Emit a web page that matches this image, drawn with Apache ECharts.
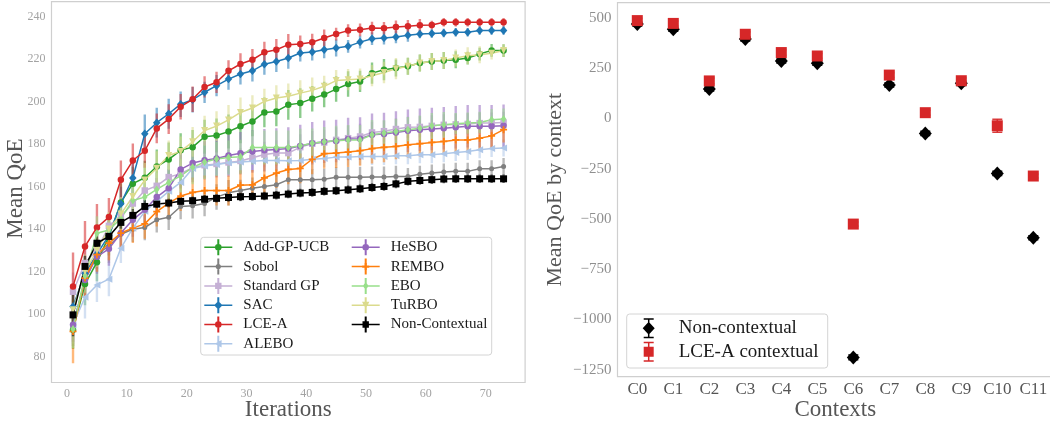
<!DOCTYPE html>
<html><head><meta charset="utf-8">
<script src="https://cdn.jsdelivr.net/npm/echarts@6/dist/echarts.min.js"></script>
<style>html,body{margin:0;padding:0;background:#fff}#c{width:1050px;height:421px}</style>
</head><body><div id="c"></div>
<script>
// ---------------- data (left panel) ----------------
const iterations = [1,3,5,7,9,11,13,15,17,19, 21,23,25,27,29,31,33,35,37,39, 41,43,45,47,49,51,53,55,57,59, 61,63,65,67,69,71,73];
const xTicks = [0,10,20,30,40,50,60,70];
const yTicks = [80,100,120,140,160,180,200,220,240];

const addGpUcb = [92.6,114.1,124.4,136.5,152.5,161.3,164.1,169.4,172.7,177.0, 178.5,183.4,184.0,185.8,188.3,190.6,194.8,195.3,198.4,199.2, 201.3,203.2,205.8,208.2,209.4,213.3,214.9,215.7,216.5,218.1, 218.8,219.2,219.6,220.4,222.3,224.0,223.9];
const sobol = [94.0,116.0,128.0,132.0,137.5,139.9,140.7,144.3,145.5,150.6, 150.9,152.0,155.0,157.0,158.1,159.2,160.0,160.8,163.2,163.2, 163.2,163.4,164.3,164.3,164.3,164.4,164.4,164.7,164.7,165.8, 166.3,166.8,167.1,167.1,168.3,168.3,169.4];
const standardGp = [110.5,124.0,130.0,141.5,146.0,152.0,158.1,160.3,164.4,166.0, 168.9,170.0,170.6,171.3,172.0,173.5,175.0,175.7,175.7,178.5, 180.1,180.7,181.9,182.7,183.5,185.4,186.0,187.0,187.8,188.0, 188.5,189.0,189.2,189.4,189.8,189.8,190.1];
const sac = [103.5,119.2,128.2,137.0,151.9,164.0,184.8,190.0,194.2,198.7, 200.8,204.3,207.4,210.5,212.9,214.4,217.5,218.8,220.4,222.8, 223.2,224.3,225.1,225.9,227.9,229.5,229.8,230.3,231.1,231.7, 231.9,232.2,232.5,232.5,233.4,233.4,233.4];
const lceA = [113.0,131.8,140.7,145.6,163.2,172.2,176.8,187.3,191.7,197.5, 201.0,206.8,209.0,214.4,217.6,219.6,223.1,224.3,226.7,227.0, 227.8,229.8,231.7,233.3,233.7,234.5,234.4,235.0,235.3,235.8, 235.9,237.2,237.2,237.2,237.2,237.2,237.2];
const alebo = [95.0,107.9,113.7,116.4,131.0,140.4,148.3,153.0,157.7,161.9, 168.5,169.6,170.3,171.1,171.5,171.9,172.2,172.2,172.1,172.2, 172.8,173.2,173.8,173.8,174.1,174.1,174.1,174.4,174.5,174.9, 174.9,175.4,176.0,176.5,177.3,177.8,178.1];
const hesbo = [95.0,116.0,127.0,130.7,138.1,144.3,149.0,155.0,159.2,168.0, 171.0,172.3,173.2,174.6,175.6,176.4,177.0,177.4,177.8,179.0, 180.3,181.0,181.4,182.3,182.5,184.3,184.7,185.4,186.2,186.7, 187.0,187.4,187.8,188.3,188.3,188.3,188.5];
const rembo = [91.8,116.9,127.9,133.3,138.1,140.4,142.4,148.2,152.2,155.5, 157.2,158.1,158.1,158.1,160.6,160.8,164.0,166.3,168.0,168.5, 172.8,175.4,175.7,176.2,176.8,177.8,178.4,178.8,179.6,180.1, 180.7,181.2,181.9,181.9,182.7,183.8,186.7];
const ebo = [93.0,118.0,138.0,139.5,145.0,153.4,155.0,158.6,161.9,165.0, 169.0,171.5,172.9,173.6,174.0,178.3,178.3,178.3,178.3,179.2, 180.3,181.0,181.5,181.9,181.9,184.3,185.1,185.9,186.7,187.4, 188.5,189.0,189.5,189.8,190.1,191.4,191.7];
const turbo = [102.0,120.0,130.0,140.0,147.0,155.3,163.0,168.6,174.6,176.5, 181.0,186.3,188.4,191.3,194.8,196.9,200.0,201.6,202.4,203.9, 205.2,207.1,209.8,210.2,210.5,212.1,213.6,215.4,216.5,218.1, 218.8,219.2,220.4,221.5,222.0,222.7,223.9];
const nonContextual = [99.6,122.4,133.3,136.5,143.1,146.4,150.6,151.7,152.2,153.0, 153.3,154.0,154.4,154.8,155.2,155.3,155.5,155.9,156.4,156.9, 157.2,157.7,158.0,158.4,158.9,159.5,160.0,161.2,162.4,162.8, 163.2,163.5,163.6,163.6,163.6,163.6,163.6];

const errAddGpUcb = [9,10,9,9,9,8,8,8,8,8, 8,8,8,8,8,7,7,7,7,7, 6,6,6,6,5,5,5,4,4,4, 4,4,4,3,3,3,3];
const errSobol = [9,8,8,8,6,6,6,6,6,6, 6,6,6,6,5,5,5,5,5,5, 5,5,5,5,5,5,5,5,4,4, 4,4,4,4,4,4,4];
const errStandardGp = [9,7,7,6,6,6,6,6,6,6, 6,6,6,6,6,6,6,6,6,6, 6,6,6,6,6,5,5,5,5,5, 5,5,5,5,5,5,5];
const errSac = [8,8,7,7,8,9,9,7,7,6, 6,5,5,5,5,5,5,5,5,4, 4,4,4,3,3,3,3,3,3,2, 2,2,2,2,2,2,2];
const errLceA = [16,12,11,9,9,8,8,7,7,6, 6,5,5,5,5,5,5,5,5,4, 4,4,3,3,3,3,3,3,3,3, 2,2,2,2,2,2,2];
const errAlebo = [9,10,8,8,7,6,6,5,5,5, 5,5,5,5,5,5,5,5,5,5, 5,4,4,4,4,4,4,4,4,4, 4,4,4,4,4,4,4];
const errHesbo = [8,8,8,8,8,8,8,9,9,9, 9,9,9,10,10,10,10,10,10,10, 10,10,10,10,10,10,10,10,10,10, 10,10,10,10,10,10,10];
const errRembo = [15,9,8,8,8,7,7,7,7,7, 7,7,7,7,7,7,7,7,7,7, 7,7,7,7,7,7,7,6,6,6, 6,6,6,6,6,6,6];
const errEbo = [9,8,8,8,8,8,8,8,8,8, 8,8,8,8,8,8,8,8,8,8, 7,7,7,7,7,7,6,6,6,6, 6,6,5,5,5,5,5];
const errTurbo = [8,8,8,8,8,8,8,8,7,7, 7,7,7,7,7,6,6,6,6,6, 6,5,5,5,5,5,5,5,4,4, 4,4,4,4,4,3,3];
const errNonContextual = [10,5,4,4,3,3,3,2,2,2, 2,2,2,2,2,2,2,2,2,2, 2,2,2,2,2,2,2,2,2,2, 2,2,2,2,2,2,2];

// ---------------- data (right panel) ----------------
const contexts = ['C0','C1','C2','C3','C4','C5','C6','C7','C8','C9','C10','C11'];
const rightYTicks = [-1250,-1000,-750,-500,-250,0,250,500];
const nonCtxMean = [469,443,146,395,285,274,-1189,166,-75,174,-274,-594];
const nonCtxErr = [10,10,10,10,10,10,12,10,10,10,10,10];
const lceCtxMean = [486,472,186,418,327,310,-526,215,28,187,-37,-287];
const lceCtxErr = [12,12,14,12,14,12,10,12,12,14,32,10];

// ---------------- styling ----------------
const FONT = "'Liberation Serif','Times New Roman',serif";
const H = 'M0,7.25H28V8.75H0Z M13,0H15V16H13Z ';
const circleP = r => `M${14-r},8A${r},${r} 0 1,1 ${14+r},8A${r},${r} 0 1,1 ${14-r},8Z`;
const icons = {
  circle: H + circleP(3.3),
  smallCircle: H + circleP(2.6),
  square: H + 'M10.8,4.8H17.2V11.2H10.8Z',
  diamond: H + 'M14,3.8L18.2,8L14,12.2L9.8,8Z',
  thinDiamond: H + 'M14,3.8L16.8,8L14,12.2L11.2,8Z',
  triLeft: H + 'M10.3,8L17.3,4.2L17.3,11.8Z',
  triDown: H + 'M10.3,4.5H17.7L14,11.6Z',
  plus: H + 'M12.8,4.5H15.2V6.8H17.5V9.2H15.2V11.5H12.8V9.2H10.5V6.8H12.8Z'
};
const PLUS = 'path://M3,0H5V3H8V5H5V8H3V5H0V3H3Z';
const TRI_LEFT = 'path://M0,4L8,0L8,8Z';
const methodStyle = [
  {name:'Add-GP-UCB', v:addGpUcb, e:errAddGpUcb, color:'#2ca02c', symbol:'circle', size:6.5, icon:icons.circle},
  {name:'Sobol', v:sobol, e:errSobol, color:'#7f7f7f', symbol:'circle', size:5, icon:icons.smallCircle},
  {name:'Standard GP', v:standardGp, e:errStandardGp, color:'#c5b0d5', symbol:'rect', size:6.5, icon:icons.square},
  {name:'SAC', v:sac, e:errSac, color:'#1f77b4', symbol:'diamond', size:[7.5,8.5], icon:icons.diamond},
  {name:'LCE-A', v:lceA, e:errLceA, color:'#d62728', symbol:'circle', size:6.5, icon:icons.circle},
  {name:'ALEBO', v:alebo, e:errAlebo, color:'#aec7e8', symbol:TRI_LEFT, size:7, icon:icons.triLeft},
  {name:'HeSBO', v:hesbo, e:errHesbo, color:'#9467bd', symbol:'circle', size:6.5, icon:icons.circle},
  {name:'REMBO', v:rembo, e:errRembo, color:'#ff7f0e', symbol:PLUS, size:7, icon:icons.plus},
  {name:'EBO', v:ebo, e:errEbo, color:'#98df8a', symbol:'diamond', size:[5.5,8], icon:icons.thinDiamond},
  {name:'TuRBO', v:turbo, e:errTurbo, color:'#dbdb8d', symbol:'triangle', rotate:180, size:7, icon:icons.triDown},
  {name:'Non-Contextual', v:nonContextual, e:errNonContextual, color:'#000000', symbol:'rect', size:7, icon:icons.square}
];

function errRender(color, width, opacity, cap) {
  return function (params, api) {
    const x = api.value(0), lo = api.value(1), hi = api.value(2);
    const a = api.coord([x, lo]), b = api.coord([x, hi]);
    const st = {stroke: color, lineWidth: width, opacity: opacity};
    const ch = [{type:'line', shape:{x1:a[0], y1:a[1], x2:b[0], y2:b[1]}, style: st}];
    if (cap) {
      ch.push({type:'line', shape:{x1:a[0]-cap, y1:a[1], x2:a[0]+cap, y2:a[1]}, style: st});
      ch.push({type:'line', shape:{x1:b[0]-cap, y1:b[1], x2:b[0]+cap, y2:b[1]}, style: st});
    }
    return {type:'group', children: ch};
  };
}

const series = [];
methodStyle.forEach(m => {
  series.push({
    type:'custom', xAxisIndex:0, yAxisIndex:0, clip:true, silent:true,
    data: iterations.map((x, k) => [x, m.v[k] - m.e[k], m.v[k] + m.e[k]]),
    renderItem: errRender(m.color, 2.4, 0.55, 0)
  });
  series.push({
    name: m.name, type:'line', xAxisIndex:0, yAxisIndex:0,
    data: iterations.map((x, k) => [x, m.v[k]]),
    symbol: m.symbol, symbolSize: m.size, symbolRotate: m.rotate || 0, showSymbol:true,
    lineStyle:{color:m.color, width:1.5}, itemStyle:{color:m.color, borderWidth:0, opacity:1},
    emphasis:{disabled:true}
  });
});

// right panel series
series.push({
  type:'custom', xAxisIndex:1, yAxisIndex:1, clip:true, silent:true,
  data: contexts.map((c, i) => [i, nonCtxMean[i] - nonCtxErr[i], nonCtxMean[i] + nonCtxErr[i]]),
  renderItem: errRender('#000', 1.6, 1, 5)
});
series.push({
  name:'Non-contextual', type:'scatter', xAxisIndex:1, yAxisIndex:1,
  data: contexts.map((c, i) => [i, nonCtxMean[i]]),
  symbol:'diamond', symbolSize:[13,14], itemStyle:{color:'#000', opacity:1}, emphasis:{disabled:true}
});
series.push({
  type:'custom', xAxisIndex:1, yAxisIndex:1, clip:true, silent:true,
  data: contexts.map((c, i) => [i, lceCtxMean[i] - lceCtxErr[i], lceCtxMean[i] + lceCtxErr[i]]),
  renderItem: errRender('#d62728', 1.6, 0.9, 5)
});
series.push({
  name:'LCE-A contextual', type:'scatter', xAxisIndex:1, yAxisIndex:1,
  data: contexts.map((c, i) => [i, lceCtxMean[i]]),
  symbol:'rect', symbolSize:11, itemStyle:{color:'#d62728', opacity:1}, emphasis:{disabled:true}
});

const minus = v => (v < 0 ? '\u2212' + Math.abs(v) : String(v));
const legendText = (size) => ({fontFamily:FONT, fontSize:size, color:'#1a1a1a'});

const option = {
  animation:false,
  backgroundColor:'#ffffff',
  grid:[
    {left:51.5, top:1.7, width:473.6, height:380.8, outerBoundsMode:'none', containLabel:false,
     show:true, borderColor:'#cfcfcf', borderWidth:1.2, backgroundColor:'#fff'},
    {left:617.5, top:2.7, width:435.6, height:374, outerBoundsMode:'none', containLabel:false,
     show:true, borderColor:'#cfcfcf', borderWidth:1.2, backgroundColor:'#fff'}
  ],
  xAxis:[
    {type:'value', gridIndex:0, min:-2.6, max:76.6,
     axisLine:{show:false}, axisTick:{show:false}, splitLine:{show:false},
     axisLabel:{customValues:xTicks, color:'#a3a3a3', fontFamily:FONT, fontSize:12, margin:5},
     name:'Iterations', nameLocation:'middle', nameGap:16, nameMoveOverlap:false,
     nameTextStyle:{fontFamily:FONT, fontSize:23, color:'#555', verticalAlign:'top'}},
    {type:'value', gridIndex:1, min:-0.55, max:11.55,
     axisLine:{show:false}, axisTick:{show:false}, splitLine:{show:false},
     axisLabel:{customValues:contexts.map((c, i) => i), formatter: v => contexts[Math.round(v)], color:'#555', fontFamily:FONT, fontSize:17, margin:4},
     name:'Contexts', nameLocation:'middle', nameGap:22, nameMoveOverlap:false,
     nameTextStyle:{fontFamily:FONT, fontSize:23, color:'#555', verticalAlign:'top'}}
  ],
  yAxis:[
    {type:'value', gridIndex:0, min:67.8, max:246.9,
     axisLine:{show:false}, axisTick:{show:false}, splitLine:{show:false},
     axisLabel:{customValues:yTicks, color:'#a3a3a3', fontFamily:FONT, fontSize:12, margin:6},
     name:'Mean QoE', nameLocation:'middle', nameGap:24, nameMoveOverlap:false,
     nameTextStyle:{fontFamily:FONT, fontSize:23, color:'#555', padding:[0,0,0,7]}},
    {type:'value', gridIndex:1, min:-1285, max:575,
     axisLine:{show:false}, axisTick:{show:false}, splitLine:{show:false},
     axisLabel:{customValues:rightYTicks, formatter:minus, color:'#8f8f8f', fontFamily:FONT, fontSize:15, margin:6},
     name:'Mean QoE by context', nameLocation:'middle', nameGap:51, nameMoveOverlap:false,
     nameTextStyle:{fontFamily:FONT, fontSize:22, color:'#555'}}
  ],
  legend:[
    {orient:'vertical', left:204.3, top:239.3, padding:0, itemWidth:28, itemHeight:16, itemGap:3.3,
     symbolKeepAspect:true, itemStyle:{borderWidth:0, opacity:1},
     data: methodStyle.slice(0, 6).map(m => ({name:m.name, icon:'path://' + m.icon})),
     textStyle: Object.assign(legendText(15), {padding:[0,0,0,6], lineHeight:16})},
    {orient:'vertical', left:351.7, top:239.3, padding:0, itemWidth:28, itemHeight:16, itemGap:3.3,
     symbolKeepAspect:true, itemStyle:{borderWidth:0, opacity:1},
     data: methodStyle.slice(6).map(m => ({name:m.name, icon:'path://' + m.icon})),
     textStyle: Object.assign(legendText(15), {padding:[0,0,0,6], lineHeight:16})},
    {orient:'vertical', left:642.7, top:318.3, padding:0, itemWidth:16, itemHeight:20, itemGap:3.4,
     symbolKeepAspect:true, itemStyle:{borderWidth:0, opacity:1},
     data:[
       {name:'Non-contextual', icon:'path://M7.25,0H8.75V20H7.25Z M3,0H13V1.5H3Z M3,18.5H13V20H3Z M8,3.5L14,10L8,16.5L2,10Z'},
       {name:'LCE-A contextual', icon:'path://M7.25,0H8.75V20H7.25Z M3,0H13V1.5H3Z M3,18.5H13V20H3Z M3,5H13V15H3Z'}
     ],
     textStyle: Object.assign(legendText(19), {padding:[0,0,0,17], lineHeight:20})}
  ],
  graphic:[
    {type:'rect', z:3, shape:{x:200.7, y:237.3, width:291, height:117.7, r:3},
     style:{fill:'rgba(255,255,255,0.85)', stroke:'#d4d4d4', lineWidth:1}},
    {type:'rect', z:3, shape:{x:626.7, y:314, width:201, height:54, r:3},
     style:{fill:'rgba(255,255,255,0.85)', stroke:'#d4d4d4', lineWidth:1}}
  ],
  series: series
};
const chart = echarts.init(document.getElementById('c'));
chart.setOption(option);
</script>
</body></html>
